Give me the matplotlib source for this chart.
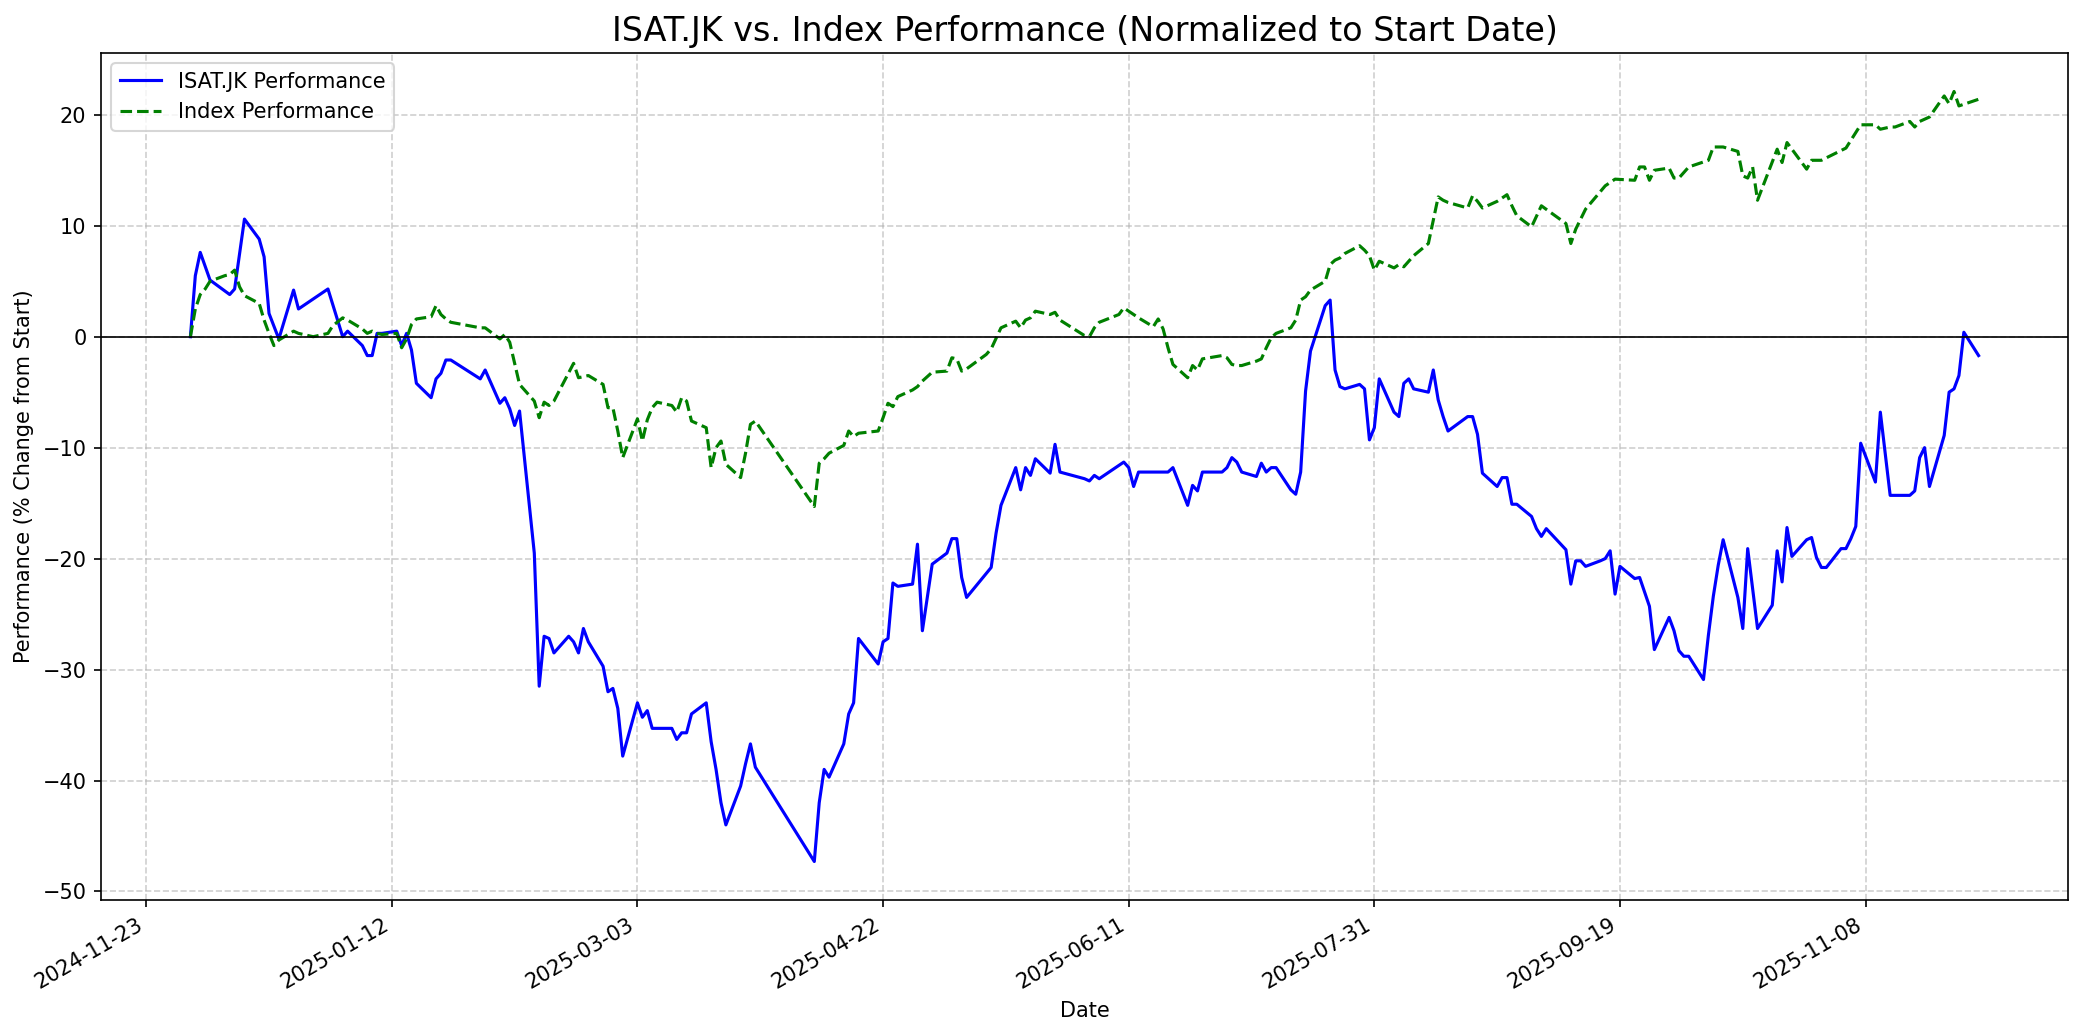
import matplotlib
matplotlib.use("Agg")
import matplotlib.pyplot as plt
import matplotlib.dates as mdates
import pandas as pd

stock_dates = [
"2024-12-02","2024-12-03","2024-12-04","2024-12-06","2024-12-10","2024-12-11","2024-12-13","2024-12-16",
"2024-12-17","2024-12-18","2024-12-20","2024-12-23","2024-12-24","2024-12-30","2025-01-02","2025-01-03",
"2025-01-06","2025-01-07","2025-01-08","2025-01-09","2025-01-10","2025-01-13","2025-01-14","2025-01-15",
"2025-01-16","2025-01-17","2025-01-20","2025-01-21","2025-01-22","2025-01-23","2025-01-24","2025-01-30",
"2025-01-31","2025-02-03","2025-02-04","2025-02-05","2025-02-06","2025-02-07","2025-02-10","2025-02-11",
"2025-02-12","2025-02-13","2025-02-14","2025-02-17","2025-02-18","2025-02-19","2025-02-20","2025-02-21",
"2025-02-24","2025-02-25","2025-02-26","2025-02-27","2025-02-28","2025-03-03","2025-03-04","2025-03-05",
"2025-03-06","2025-03-07","2025-03-10","2025-03-11","2025-03-12","2025-03-13","2025-03-14","2025-03-17",
"2025-03-18","2025-03-19","2025-03-20","2025-03-21","2025-03-24","2025-03-25","2025-03-26","2025-03-27",
"2025-04-08","2025-04-09","2025-04-10","2025-04-11","2025-04-14","2025-04-15","2025-04-16","2025-04-17",
"2025-04-21","2025-04-22","2025-04-23","2025-04-24","2025-04-25","2025-04-28","2025-04-29","2025-04-30",
"2025-05-02","2025-05-05","2025-05-06","2025-05-07","2025-05-08","2025-05-09","2025-05-14","2025-05-15",
"2025-05-16","2025-05-19","2025-05-20","2025-05-21","2025-05-22","2025-05-23","2025-05-26","2025-05-27",
"2025-05-28","2025-06-02","2025-06-03","2025-06-04","2025-06-05","2025-06-10","2025-06-11","2025-06-12",
"2025-06-13","2025-06-16","2025-06-17","2025-06-18","2025-06-19","2025-06-20","2025-06-23","2025-06-24",
"2025-06-25","2025-06-26","2025-06-30","2025-07-01","2025-07-02","2025-07-03","2025-07-04","2025-07-07",
"2025-07-08","2025-07-09","2025-07-10","2025-07-11","2025-07-14","2025-07-15","2025-07-16","2025-07-17",
"2025-07-18","2025-07-21","2025-07-22","2025-07-23","2025-07-24","2025-07-25","2025-07-28","2025-07-29",
"2025-07-30","2025-07-31","2025-08-01","2025-08-04","2025-08-05","2025-08-06","2025-08-07","2025-08-08",
"2025-08-11","2025-08-12","2025-08-13","2025-08-14","2025-08-15","2025-08-19","2025-08-20","2025-08-21",
"2025-08-22","2025-08-25","2025-08-26","2025-08-27","2025-08-28","2025-08-29","2025-09-01","2025-09-02",
"2025-09-03","2025-09-04","2025-09-08","2025-09-09","2025-09-10","2025-09-11","2025-09-12","2025-09-15",
"2025-09-16","2025-09-17","2025-09-18","2025-09-19","2025-09-22","2025-09-23","2025-09-24","2025-09-25",
"2025-09-26","2025-09-29","2025-09-30","2025-10-01","2025-10-02","2025-10-03","2025-10-06","2025-10-07",
"2025-10-08","2025-10-09","2025-10-10","2025-10-13","2025-10-14","2025-10-15","2025-10-16","2025-10-17",
"2025-10-20","2025-10-21","2025-10-22","2025-10-23","2025-10-24","2025-10-27","2025-10-28","2025-10-29",
"2025-10-30","2025-10-31","2025-11-03","2025-11-04","2025-11-05","2025-11-06","2025-11-07","2025-11-10",
"2025-11-11","2025-11-13","2025-11-14","2025-11-17","2025-11-18","2025-11-19","2025-11-20","2025-11-21",
"2025-11-24","2025-11-25","2025-11-26","2025-11-27","2025-11-28","2025-12-01"]

stock_perf = [
0.0, 5.5, 7.6, 5.1, 3.8, 4.3, 10.6, 8.8,
7.2, 2.1, -0.2, 4.2, 2.5, 4.3, 0.0, 0.5,
-0.8, -1.7, -1.7, 0.3, 0.3, 0.5, -0.8, 0.3,
-1.2, -4.2, -5.5, -3.8, -3.3, -2.1, -2.1, -3.8,
-3.0, -6.0, -5.5, -6.5, -8.0, -6.7, -19.5, -31.5,
-27.0, -27.2, -28.5, -27.0, -27.5, -28.5, -26.3, -27.5,
-29.7, -32.0, -31.7, -33.5, -37.8, -33.0, -34.3, -33.7,
-35.3, -35.3, -35.3, -36.3, -35.7, -35.7, -34.0, -33.0,
-36.5, -39.0, -42.0, -44.0, -40.5, -38.5, -36.7, -38.8,
-47.3, -42.0, -39.0, -39.7, -36.7, -34.0, -33.0, -27.2,
-29.5, -27.5, -27.2, -22.2, -22.5, -22.3, -18.7, -26.5,
-20.5, -19.5, -18.2, -18.2, -21.7, -23.5, -20.8, -17.7,
-15.2, -11.8, -13.8, -11.8, -12.5, -11.0, -12.3, -9.7,
-12.2, -12.8, -13.0, -12.5, -12.8, -11.3, -11.8, -13.5,
-12.2, -12.2, -12.2, -12.2, -12.2, -11.8, -15.2, -13.4,
-13.9, -12.2, -12.2, -11.8, -10.9, -11.3, -12.2, -12.6,
-11.4, -12.2, -11.8, -11.8, -13.8, -14.2, -12.2, -4.9,
-1.3, 2.8, 3.3, -3.0, -4.5, -4.7, -4.3, -4.7,
-9.3, -8.2, -3.8, -6.8, -7.2, -4.2, -3.8, -4.7,
-5.0, -3.0, -5.7, -7.2, -8.5, -7.2, -7.2, -8.8,
-12.3, -13.5, -12.7, -12.7, -15.1, -15.1, -16.2, -17.3,
-18.0, -17.3, -19.2, -22.3, -20.2, -20.2, -20.7, -20.2,
-20.0, -19.3, -23.2, -20.7, -21.8, -21.7, -23.0, -24.3,
-28.2, -25.3, -26.5, -28.3, -28.8, -28.8, -30.9, -26.9,
-23.4, -20.6, -18.3, -23.5, -26.3, -19.1, -22.7, -26.3,
-24.2, -19.3, -22.1, -17.2, -19.8, -18.3, -18.1, -19.9,
-20.8, -20.8, -19.1, -19.1, -18.2, -17.1, -9.6, -13.1,
-6.8, -14.3, -14.3, -14.3, -13.9, -10.9, -10.0, -13.5,
-8.9, -5.0, -4.7, -3.5, 0.4, -1.7]

index_dates = [
"2024-12-02","2024-12-03","2024-12-04","2024-12-05","2024-12-06","2024-12-09","2024-12-10","2024-12-11",
"2024-12-12","2024-12-13","2024-12-16","2024-12-17","2024-12-18","2024-12-19","2024-12-20","2024-12-23",
"2024-12-24","2024-12-27","2024-12-30","2024-12-31","2025-01-02","2025-01-03","2025-01-06","2025-01-07",
"2025-01-08","2025-01-09","2025-01-10","2025-01-13","2025-01-14","2025-01-15","2025-01-16","2025-01-17",
"2025-01-20","2025-01-21","2025-01-22","2025-01-23","2025-01-24","2025-01-30","2025-01-31","2025-02-03",
"2025-02-04","2025-02-05","2025-02-07","2025-02-10","2025-02-11","2025-02-12","2025-02-13","2025-02-14",
"2025-02-18","2025-02-19","2025-02-20","2025-02-21","2025-02-24","2025-02-25","2025-02-26","2025-02-27",
"2025-02-28","2025-03-03","2025-03-04","2025-03-05","2025-03-06","2025-03-07","2025-03-10","2025-03-11",
"2025-03-12","2025-03-13","2025-03-14","2025-03-17","2025-03-18","2025-03-19","2025-03-20","2025-03-21",
"2025-03-24","2025-03-25","2025-03-26","2025-03-27","2025-04-08","2025-04-09","2025-04-10","2025-04-11",
"2025-04-14","2025-04-15","2025-04-16","2025-04-17","2025-04-21","2025-04-22","2025-04-23","2025-04-24",
"2025-04-25","2025-04-28","2025-04-29","2025-04-30","2025-05-02","2025-05-05","2025-05-06","2025-05-07",
"2025-05-08","2025-05-09","2025-05-13","2025-05-14","2025-05-16","2025-05-19","2025-05-20","2025-05-21",
"2025-05-22","2025-05-23","2025-05-26","2025-05-27","2025-05-28","2025-06-02","2025-06-03","2025-06-04",
"2025-06-05","2025-06-09","2025-06-10","2025-06-11","2025-06-12","2025-06-13","2025-06-16","2025-06-17",
"2025-06-18","2025-06-19","2025-06-20","2025-06-23","2025-06-24","2025-06-25","2025-06-26","2025-06-30",
"2025-07-01","2025-07-02","2025-07-03","2025-07-04","2025-07-07","2025-07-08","2025-07-09","2025-07-10",
"2025-07-11","2025-07-14","2025-07-15","2025-07-16","2025-07-17","2025-07-18","2025-07-21","2025-07-22",
"2025-07-23","2025-07-24","2025-07-25","2025-07-28","2025-07-29","2025-07-30","2025-07-31","2025-08-01",
"2025-08-04","2025-08-05","2025-08-06","2025-08-07","2025-08-08","2025-08-11","2025-08-12","2025-08-13",
"2025-08-14","2025-08-15","2025-08-19","2025-08-20","2025-08-21","2025-08-22","2025-08-25","2025-08-26",
"2025-08-27","2025-08-28","2025-08-29","2025-09-01","2025-09-03","2025-09-08","2025-09-09","2025-09-10",
"2025-09-12","2025-09-16","2025-09-18","2025-09-22","2025-09-23","2025-09-24","2025-09-25","2025-09-26",
"2025-09-29","2025-09-30","2025-10-01","2025-10-03","2025-10-07","2025-10-08","2025-10-10","2025-10-13",
"2025-10-14","2025-10-15","2025-10-16","2025-10-17","2025-10-21","2025-10-22","2025-10-23","2025-10-24",
"2025-10-27","2025-10-28","2025-10-30","2025-11-04","2025-11-06","2025-11-07","2025-11-10","2025-11-11",
"2025-11-13","2025-11-14","2025-11-17","2025-11-18","2025-11-19","2025-11-21","2025-11-24","2025-11-25",
"2025-11-26","2025-11-27","2025-12-01"]

index_perf = [
0.0, 2.5, 3.8, 4.3, 5.0, 5.5, 5.6, 6.0,
4.5, 3.7, 3.0, 1.5, 0.3, -0.8, -0.3, 0.5,
0.3, 0.0, 0.3, 1.0, 1.7, 1.5, 0.7, 0.3,
0.5, 0.3, 0.2, 0.3, -1.0, -0.2, 1.1, 1.6,
1.8, 2.8, 2.0, 1.6, 1.3, 0.8, 0.8, -0.2,
0.2, -0.5, -4.3, -5.8, -7.3, -5.9, -6.2, -5.8,
-2.4, -3.7, -3.6, -3.5, -4.3, -6.4, -6.4, -8.5,
-10.9, -7.4, -9.4, -7.5, -6.4, -5.9, -6.2, -6.8,
-5.5, -5.8, -7.6, -8.2, -11.8, -10.0, -9.4, -11.5,
-12.7, -10.5, -7.9, -7.6, -15.3, -11.4, -11.0, -10.5,
-9.8, -8.5, -9.0, -8.7, -8.5, -7.3, -6.0, -6.3,
-5.4, -4.8, -4.5, -4.0, -3.2, -3.1, -1.9, -2.0,
-3.1, -2.9, -1.6, -1.1, 0.8, 1.4, 0.8, 1.5,
1.7, 2.3, 2.0, 2.2, 1.5, 0.1, 0.0, 0.8,
1.3, 2.0, 2.6, 2.3, 2.0, 1.7, 0.9, 1.6,
0.7, -1.0, -2.5, -3.7, -2.6, -3.0, -2.0, -1.7,
-1.9, -2.5, -2.6, -2.6, -2.2, -2.0, -1.0, -0.1,
0.3, 0.8, 1.5, 3.3, 3.6, 4.2, 5.0, 6.5,
6.9, 7.1, 7.5, 8.2, 7.8, 7.3, 6.0, 6.8,
6.2, 6.5, 6.3, 6.8, 7.3, 8.4, 10.5, 12.6,
12.3, 12.1, 11.6, 12.7, 12.2, 11.6, 12.2, 12.5,
12.8, 11.8, 10.9, 9.9, 11.8, 10.2, 8.4, 9.7,
11.5, 13.6, 14.2, 14.1, 15.3, 15.3, 14.1, 15.0,
15.2, 14.3, 14.3, 15.3, 15.9, 17.1, 17.1, 16.7,
14.5, 14.3, 15.3, 12.3, 16.9, 15.7, 17.5, 16.9,
15.1, 15.9, 15.9, 17.0, 18.4, 19.1, 19.1, 18.7,
18.9, 18.9, 19.4, 18.9, 19.4, 19.8, 21.7, 21.0,
22.1, 20.8, 21.4]

tick_labels = ["2024-11-23", "2025-01-12", "2025-03-03", "2025-04-22",
               "2025-06-11", "2025-07-31", "2025-09-19", "2025-11-08"]

s_dates = pd.to_datetime(stock_dates)
i_dates = pd.to_datetime(index_dates)
ticks = pd.to_datetime(tick_labels)

fig, ax = plt.subplots(figsize=(2084 / 150, 1035 / 150), dpi=150)
ax.plot(s_dates, stock_perf, color="blue", linewidth=1.5, label="ISAT.JK Performance")
ax.plot(i_dates, index_perf, color="green", linestyle="--", linewidth=1.5, label="Index Performance")
ax.axhline(0, color="black", linewidth=0.8)

ax.set_title("ISAT.JK vs. Index Performance (Normalized to Start Date)", fontsize=16)
ax.set_xlabel("Date")
ax.set_ylabel("Performance (% Change from Start)")
ax.grid(True, linestyle="--", alpha=0.6)
ax.legend(loc="upper left")

ax.set_xticks(ticks)
ax.xaxis.set_major_formatter(mdates.DateFormatter("%Y-%m-%d"))
plt.setp(ax.get_xticklabels(), rotation=30, ha="right")

fig.subplots_adjust(left=101 / 2084, right=2068 / 2084, top=1 - 53 / 1035, bottom=1 - 900 / 1035)
fig.savefig("out.png", dpi=150)
